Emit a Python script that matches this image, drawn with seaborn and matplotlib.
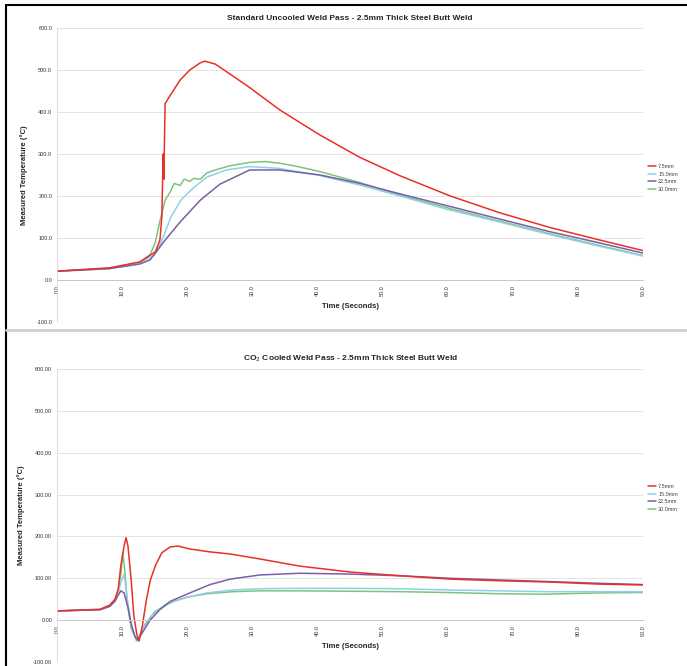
import matplotlib
matplotlib.use("Agg")
import matplotlib.pyplot as plt
import matplotlib.lines as mlines
import numpy as np
import pandas as pd
import seaborn as sns

# series names and colours
series = ["7.5mm", "15.0mm", "22.5mm", "30.0mm"]
colors = ["#e8302a", "#8fd0e8", "#7b5ea7", "#7cc47c"]

# --- top chart: standard uncooled weld pass ---
top_red_t = [0, 8.1, 12.7, 15.1, 15.8, 16.1, 16.3, 16.4, 16.6, 17.4, 18.9, 20.4, 22.0, 22.7, 24.3,
             26.6, 29.6, 34.2, 40.4, 46.5, 52.7, 60.4, 68.0, 75.7, 83.4, 90]
top_red_v = [21, 29, 43, 67, 95, 150, 300, 240, 420, 440, 476, 500, 517, 521, 514,
             490, 458, 405, 345, 292, 248, 200, 160, 125, 95, 70]

top_cyan_t = [0, 8, 12.7, 15, 16, 17.5, 19, 21, 23, 26, 29.6, 34, 40, 46, 52.7, 60, 68, 75.7, 83.4, 90]
top_cyan_v = [21, 27, 40, 60, 90, 150, 190, 220, 245, 262, 270, 266, 250, 228, 200, 168, 138, 108, 80, 57]

top_purple_t = [0, 8, 12.7, 14.3, 16.6, 18.9, 22.0, 25.0, 29.6, 34.2, 40.4, 46.5, 52.7, 60.4, 68.0, 75.7, 83.4, 90]
top_purple_v = [21, 27, 38, 48, 95, 138, 190, 228, 262, 262, 250, 230, 205, 175, 145, 115, 88, 64]

top_green_t = [0, 8, 12.7, 14.3, 15.1, 15.8, 16.6, 17.4, 18.0, 18.9, 19.5, 20.4, 21, 22, 23, 24.3, 26.6,
               29.6, 32, 34.2, 37, 40.4, 46.5, 52.7, 60.4, 68, 75.7, 83.4, 90]
top_green_v = [21, 28, 42, 60, 90, 140, 190, 210, 230, 225, 240, 235, 242, 240, 255, 262, 272,
               280, 282, 278, 270, 258, 232, 202, 170, 140, 110, 82, 58]

# --- bottom chart: CO2 cooled weld pass ---
bot_red_t = [0, 6.6, 8.1, 8.9, 9.4, 9.8, 10.3, 10.6, 10.9, 11.4, 11.8, 12.3, 12.6, 13.1, 13.7, 14.3,
             15.1, 16.1, 17.4, 18.6, 20.4, 23.5, 26.6, 31.2, 37.3, 45.0, 52.7, 60.4, 68.0, 75.7, 83.4, 90]
bot_red_v = [22, 26, 36, 50, 74, 130, 177, 197, 177, 94, 10, -38, -50, -14, 46, 94,
             130, 161, 175, 177, 170, 163, 158, 146, 129, 115, 106, 98, 94, 91, 86, 84]

bot_cyan_t = [0, 6.6, 8.1, 8.9, 9.4, 9.8, 10.3, 10.8, 11.5, 12.2, 13.0, 14.5, 16, 18, 20, 23, 27, 31,
              37, 45, 52.7, 60, 68, 75, 83, 90]
bot_cyan_v = [22, 25, 33, 46, 65, 90, 110, 50, -20, -50, -25, 10, 30, 45, 55, 65, 72, 75,
              76, 76, 75, 72, 70, 68, 68, 68]

bot_purple_t = [0, 6.6, 8.1, 8.9, 9.4, 9.8, 10.3, 10.9, 11.4, 12.0, 12.4, 13.1, 14.3, 15.8, 17.4, 20.4,
                23.5, 26.6, 31.2, 37.3, 45, 52.7, 60.4, 68, 75.7, 83.4, 90]
bot_purple_v = [22, 25, 33, 45, 60, 70, 65, 30, -10, -40, -48, -30, 0, 25, 45, 65,
                85, 98, 108, 112, 110, 106, 100, 96, 92, 88, 85]

bot_green_t = [0, 6.6, 8.1, 8.9, 9.4, 9.8, 10.1, 10.4, 10.8, 11.4, 12.1, 12.6, 13.5, 15, 17, 20, 23,
               27, 31, 37, 45, 52.7, 60, 68, 75, 83, 90]
bot_green_v = [22, 25, 33, 48, 70, 110, 160, 120, 40, -20, -45, -40, -10, 20, 40, 55, 63,
               68, 70, 70, 69, 68, 66, 63, 62, 65, 66]

x_ticks = [0, 10, 20, 30, 40, 50, 60, 70, 80, 90]
y_ticks = [-100, 0, 100, 200, 300, 400, 500, 600]

titles = ["Standard Uncooled Weld Pass - 2.5mm Thick Steel Butt Weld",
          "CO$_2$ Cooled Weld Pass - 2.5mm Thick Steel Butt Weld"]


def make_df(ts, vs):
    parts = []
    for name, t, v in zip(series, ts, vs):
        parts.append(pd.DataFrame({"Time": t, "Temp": v, "Series": name}))
    return pd.concat(parts, ignore_index=True)


df_top = make_df([top_red_t, top_cyan_t, top_purple_t, top_green_t],
                 [top_red_v, top_cyan_v, top_purple_v, top_green_v])
df_bot = make_df([bot_red_t, bot_cyan_t, bot_purple_t, bot_green_t],
                 [bot_red_v, bot_cyan_v, bot_purple_v, bot_green_v])

sns.set_theme(style="white")
plt.rcParams['font.family'] = ['Liberation Sans', 'DejaVu Sans']

fig = plt.figure(figsize=(6.87, 6.66), dpi=100)
ax1 = fig.add_axes([0.083, 0.5165, 0.853, 0.4415])
ax2 = fig.add_axes([0.083, 0.006, 0.853, 0.440])

palette = dict(zip(series, colors))

for ax, df, title, fmt, leg_y in [(ax1, df_top, titles[0], "{:.1f}", 0.49),
                                  (ax2, df_bot, titles[1], "{:.2f}", 0.56)]:
    # draw the lighter series first so red sits on top
    order = ["30.0mm", "15.0mm", "22.5mm", "7.5mm"]
    for name in order:
        sub = df[df["Series"] == name]
        sns.lineplot(data=sub, x="Time", y="Temp", color=palette[name], lw=1.1,
                     estimator=None, sort=False, ax=ax, legend=False)
    # axis crosses at 0 (set before ticks, it resets them)
    for s in ["top", "right"]:
        ax.spines[s].set_visible(False)
    ax.spines["bottom"].set_position(("data", 0))
    ax.spines["bottom"].set_color("#c8c8c8")
    ax.spines["bottom"].set_linewidth(0.7)
    ax.spines["left"].set_color("#d8d8d8")
    ax.spines["left"].set_linewidth(0.6)

    ax.set_xlim(0, 90)
    ax.set_ylim(-100, 600)
    ax.set_yticks(y_ticks)
    ax.set_yticklabels([fmt.format(v) for v in y_ticks], fontsize=4, color="#333333")
    ax.set_xticks(x_ticks)
    ax.set_xticklabels([f"{v:.1f}" for v in x_ticks], fontsize=4, rotation=90, color="#333333")
    ax.yaxis.grid(True, color="#e4e4e4", lw=0.7)
    ax.xaxis.grid(False)
    ax.tick_params(axis="both", length=2, width=0.5, color="#aaaaaa", pad=1.5)
    ax.set_xlabel("")
    ax.set_ylabel("Measured Temperature (°C)", fontsize=5.5, fontweight="bold", labelpad=6)
    ax.set_title(title, fontsize=6, fontweight="bold", pad=6)
    ax.text(45, -64, "Time (Seconds)", ha="center", va="center",
            fontsize=5.5, fontweight="bold")
    handles = [mlines.Line2D([], [], color=palette[n], lw=1.1) for n in series]
    leg = ax.legend(handles, series, loc="center left", bbox_to_anchor=(1.005, leg_y),
                    fontsize=4, frameon=False, handlelength=1.4, handletextpad=0.4,
                    labelspacing=0.5, borderaxespad=0)
    for t in leg.get_texts():
        t.set_color("#444444")

# outer border and panel separator
fig.add_artist(mlines.Line2D([0.009, 0.009], [0, 0.993], color="black", lw=1.5, transform=fig.transFigure))
fig.add_artist(mlines.Line2D([0.009, 1], [0.993, 0.993], color="black", lw=1.5, transform=fig.transFigure))
fig.add_artist(mlines.Line2D([0.009, 1], [0.505, 0.505], color="#cfcfcf", lw=2, transform=fig.transFigure))

fig.savefig("out.png", dpi=100)
